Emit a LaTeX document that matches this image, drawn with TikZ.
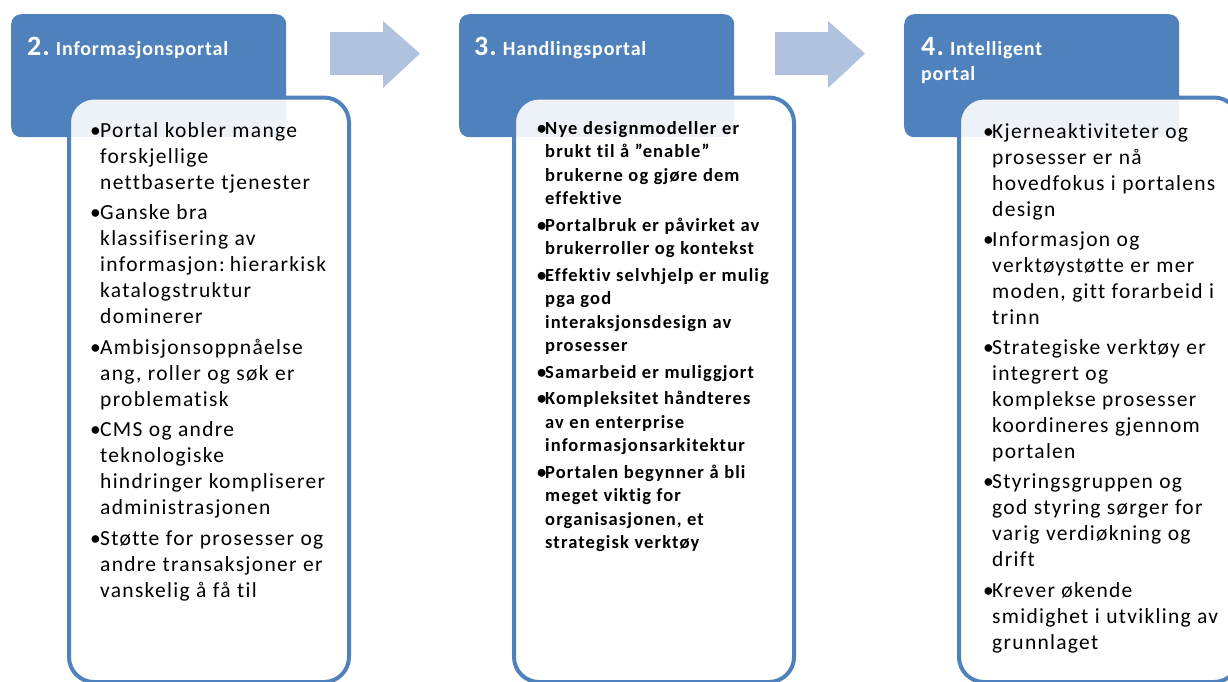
\documentclass[tikz,border=0pt]{standalone}
\usepackage{fontspec}
\setmainfont{Carlito}
\newfontfamily\bodyfont[LetterSpace=6,Ligatures=NoCommon]{Carlito}
\newfontfamily\headfont[LetterSpace=4]{Carlito}
\definecolor{portalblue}{HTML}{4F81BD}
\definecolor{arrowblue}{HTML}{B0C2DE}
% manual line break inside a paragraph (keeps the hanging indent)
\newcommand\nl{\unskip\hfil\break}
% one bullet item with hanging indent
\newcommand\pitem[2][10pt]{\hangindent=#1\hangafter=1\noindent\makebox[#1][l]{•}#2\par}
% body font setup: size, line pitch, gap between items, word spacing
\newcommand\bodysetup[3]{\bodyfont\fontsize{#1}{#2}\selectfont\setlength\parskip{#3}\spaceskip=0.3em plus 0.1em\relax}
\begin{document}
\begin{tikzpicture}[x=1pt,y=-1pt,
  header/.style={fill=portalblue, rounded corners=10pt, inner sep=0pt,
    minimum width=275pt, minimum height=123pt, anchor=north west},
  contentbox/.style={draw=portalblue, line width=4pt, fill=white, fill opacity=0.9,
    rounded corners=25pt, inner sep=0pt, minimum width=280pt, minimum height=584.5pt,
    anchor=north west},
  title/.style={anchor=base west, text=white, inner sep=0pt, align=left,
    font=\headfont\bfseries\fontsize{20}{25}\selectfont},
  bodytext/.style={anchor=base west, inner sep=0pt, text width=#1}
]
\useasboundingbox (0,0) rectangle (1228,681);
\clip (0,0) rectangle (1228,681);

% step headers
\node[header] (h1) at (11,14) {};
\node[header] (h2) at (459,14) {};
\node[header] (h3) at (904,14) {};

% arrows between the steps
\fill[arrowblue] (330,32) -- (383,32) -- (383,21) -- (420,53.5)
  -- (383,88) -- (383,75) -- (330,75) -- cycle;
\fill[arrowblue] (775,32) -- (828,32) -- (828,21) -- (865,53.5)
  -- (828,88) -- (828,75) -- (775,75) -- cycle;

% content boxes laid over the headers
\node[contentbox] (c1) at (67,95.5) {};
\node[contentbox] (c2) at (512,95.5) {};
\node[contentbox] (c3) at (957,95.5) {};

% header titles
\node[title] (t1) at (27,55) {{\fontsize{28}{25}\selectfont 2.}\hspace{6pt}Informasjonsportal};
\node[title] (t2) at (474,55) {{\fontsize{28}{25}\selectfont 3.}\hspace{6pt}Handlingsportal};
\node[title] (t3) at (921,80) {{\fontsize{28}{25}\selectfont 4.}\hspace{6pt}Intelligent\\portal};

% bullet lists
\node[bodytext=300pt] (b1) at (90,137) {\bodysetup{21.5}{26}{4.5pt}%
  \pitem{Portal kobler mange\nl forskjellige\nl nettbaserte tjenester}%
  \pitem{Ganske bra\nl klassifisering av\nl informasjon: hierarkisk\nl katalogstruktur\nl dominerer}%
  \pitem{Ambisjonsoppnåelse\nl ang, roller og søk er\nl problematisk}%
  \pitem{CMS og andre\nl teknologiske\nl hindringer kompliserer\nl administrasjonen}%
  \pitem{Støtte for prosesser og\nl andre transaksjoner er\nl vanskelig å få til}};

\node[bodytext=300pt] (b2) at (537,134) {\bodysetup{18.5}{23.5}{3pt}\bfseries
  \pitem[8pt]{Nye designmodeller er\nl brukt til å ”enable”\nl brukerne og gjøre dem\nl effektive}%
  \pitem[8pt]{Portalbruk er påvirket av\nl brukerroller og kontekst}%
  \pitem[8pt]{Effektiv selvhjelp er mulig\nl pga god\nl interaksjonsdesign av\nl prosesser}%
  \pitem[8pt]{Samarbeid er muliggjort}%
  \pitem[8pt]{Kompleksitet håndteres\nl av en enterprise\nl informasjonsarkitektur}%
  \pitem[8pt]{Portalen begynner å bli\nl meget viktig for\nl organisasjonen, et\nl strategisk verktøy}};

\node[bodytext=300pt] (b3) at (983,138) {\bodysetup{21.5}{26}{4.25pt}%
  \pitem[9pt]{Kjerneaktiviteter og\nl prosesser er nå\nl hovedfokus i portalens\nl design}%
  \pitem[9pt]{Informasjon og\nl verktøystøtte er mer\nl moden, gitt forarbeid i\nl trinn}%
  \pitem[9pt]{Strategiske verktøy er\nl integrert og\nl komplekse prosesser\nl koordineres gjennom\nl portalen}%
  \pitem[9pt]{Styringsgruppen og\nl god styring sørger for\nl varig verdiøkning og\nl drift}%
  \pitem[9pt]{Krever økende\nl smidighet i utvikling av\nl grunnlaget}};
\end{tikzpicture}
\end{document}
